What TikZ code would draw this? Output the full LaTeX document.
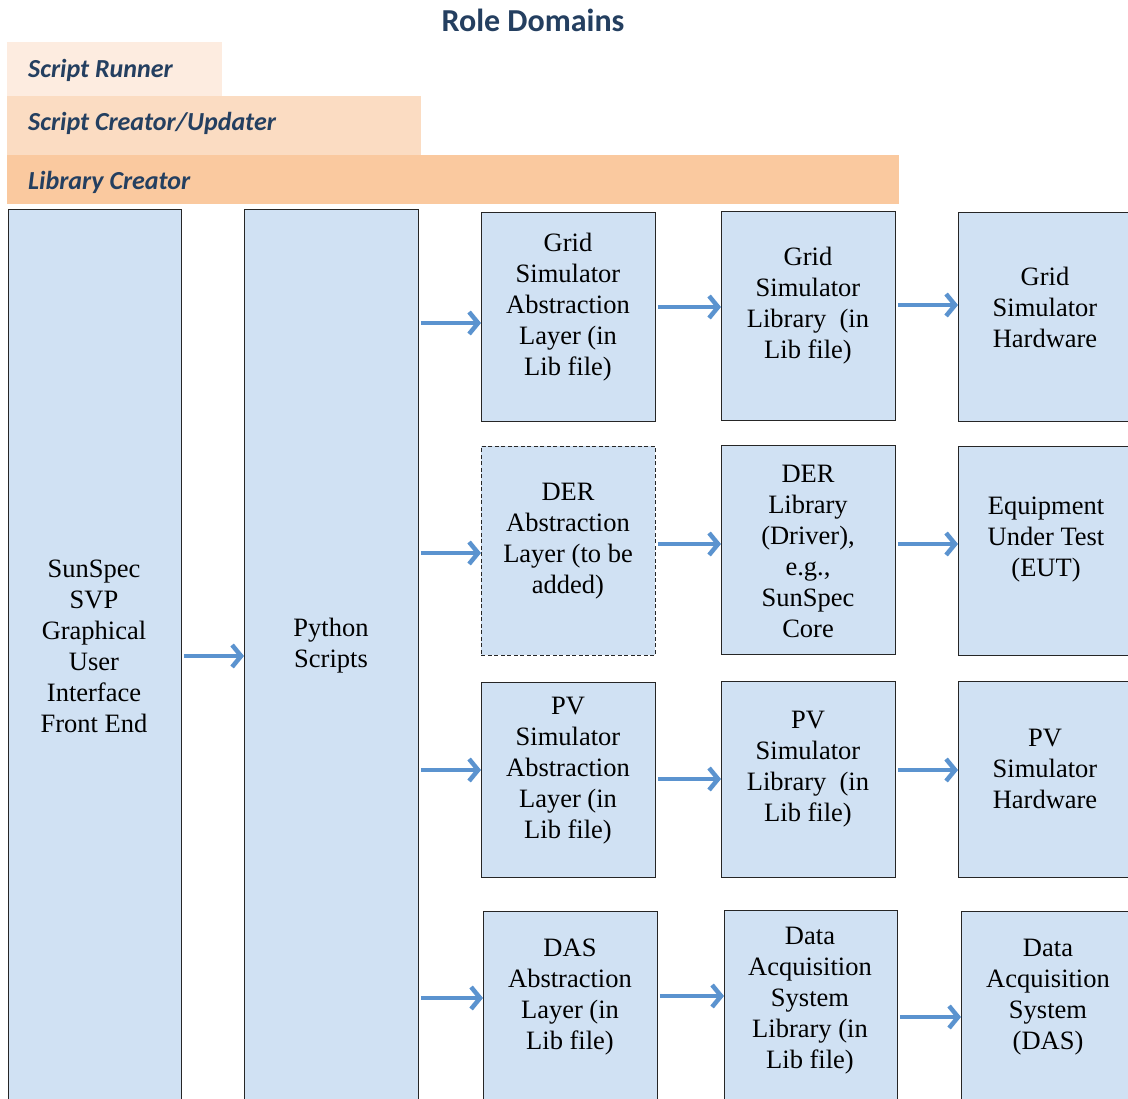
\documentclass[tikz,border=0pt]{standalone}
\usepackage{fontspec}
\setmainfont{Liberation Serif}
\newfontfamily\rolefont{Carlito}
\usetikzlibrary{arrows.meta}
\definecolor{boxblue}{HTML}{D0E1F3}
\definecolor{flowblue}{HTML}{5B93CF}
\definecolor{roleA}{HTML}{FDECE0}
\definecolor{roleB}{HTML}{FBDCC2}
\definecolor{roleC}{HTML}{FAC99F}
\definecolor{roletext}{HTML}{243F60}
\tikzset{
  rtext/.style={anchor=west, inner sep=0pt, text=roletext, font=\rolefont\bfseries\itshape\fontsize{26}{30}\selectfont},
  rtitle/.style={inner sep=0pt, text=roletext, font=\rolefont\bfseries\fontsize{32}{36}\selectfont},
  blk/.style={draw=black!85, line width=0.8pt, fill=boxblue, anchor=north west, inner sep=0pt},
  blkdash/.style={blk, dash pattern=on 4pt off 2.5pt},
  blktext/.style={align=center, inner sep=0pt, font=\fontsize{26.5}{31}\selectfont},
  flow/.style={draw=flowblue, line width=4.5pt, shorten <=2pt, -{Straight Barb[length=9pt,width=22pt]}},
}
\begin{document}
\begin{tikzpicture}[x=1pt,y=-1pt]
\useasboundingbox (0,0) rectangle (1128,1099);
\clip (0,0) rectangle (1128,1099);
% role bands
\node[rtitle] (title) at (533,20) {Role Domains};
\fill[roleA] (7,42) rectangle (222,96);
\fill[roleB] (7,96) rectangle (421,155);
\fill[roleC] (7,155) rectangle (899,204);
\node[rtext] (runner) at (28,70) {Script Runner};
\node[rtext] (creator) at (28,123) {Script Creator/Updater};
\node[rtext] (libc) at (28,182) {Library Creator};
% blocks
\node[blk, minimum width=173, minimum height=920] (gui) at (8,209) {};
\node[blk, minimum width=174, minimum height=920] (py) at (244,209) {};
\node[blk, minimum width=174, minimum height=209] (a1) at (481,212) {};
\node[blkdash, minimum width=174, minimum height=209] (a2) at (481,446) {};
\node[blk, minimum width=174, minimum height=195] (a3) at (481,682) {};
\node[blk, minimum width=174, minimum height=220] (a4) at (483,911) {};
\node[blk, minimum width=174, minimum height=209] (l1) at (721,211) {};
\node[blk, minimum width=174, minimum height=209] (l2) at (721,445) {};
\node[blk, minimum width=174, minimum height=196] (l3) at (721,681) {};
\node[blk, minimum width=173, minimum height=220] (l4) at (724,910) {};
\node[blk, minimum width=200, minimum height=209] (h1) at (958,212) {};
\node[blk, minimum width=200, minimum height=209] (h2) at (958,446) {};
\node[blk, minimum width=200, minimum height=196] (h3) at (958,681) {};
\node[blk, minimum width=200, minimum height=220] (h4) at (961,911) {};
% block texts
\node[blktext] (guit) at (94,646) {SunSpec\\SVP\\Graphical\\User\\Interface\\Front End};
\node[blktext] (pyt) at (331,646) {Python\\Scripts};
\node[blktext] (a1t) at (568,307) {Grid\\Simulator\\Abstraction\\Layer (in\\Lib file)};
\node[blktext] (a2t) at (568,541) {DER\\Abstraction\\Layer (to be\\added)};
\node[blktext] (a3t) at (568,771) {PV\\Simulator\\Abstraction\\Layer (in\\Lib file)};
\node[blktext] (a4t) at (570,997) {DAS\\Abstraction\\Layer (in\\Lib file)};
\node[blktext] (l1t) at (808,306) {Grid\\Simulator\\Library~~(in\\Lib file)};
\node[blktext] (l2t) at (808,551) {DER\\Library\\(Driver),\\e.g.,\\SunSpec\\Core};
\node[blktext] (l3t) at (808,769) {PV\\Simulator\\Library~~(in\\Lib file)};
\node[blktext] (l4t) at (810,1001) {Data\\Acquisition\\System\\Library (in\\Lib file)};
\node[blktext] (h1t) at (1045,307) {Grid\\Simulator\\Hardware};
\node[blktext] (h2t) at (1046,540) {Equipment\\Under Test\\(EUT)};
\node[blktext] (h3t) at (1045,769) {PV\\Simulator\\Hardware};
\node[blktext] (h4t) at (1048,997) {Data\\Acquisition\\System\\(DAS)};
% arrows
\draw[flow] (gui.east |- 0,656) -- (py.west |- 0,656);
\draw[flow] (py.east |- 0,323) -- (a1.west |- 0,323);
\draw[flow] (py.east |- 0,553) -- (a2.west |- 0,553);
\draw[flow] (py.east |- 0,770) -- (a3.west |- 0,770);
\draw[flow] (py.east |- 0,998) -- (a4.west |- 0,998);
\draw[flow] (a1.east |- 0,307) -- (l1.west |- 0,307);
\draw[flow] (a2.east |- 0,544) -- (l2.west |- 0,544);
\draw[flow] (a3.east |- 0,779) -- (l3.west |- 0,779);
\draw[flow] (a4.east |- 0,996) -- (l4.west |- 0,996);
\draw[flow] (l1.east |- 0,305) -- (h1.west |- 0,305);
\draw[flow] (l2.east |- 0,544) -- (h2.west |- 0,544);
\draw[flow] (l3.east |- 0,770) -- (h3.west |- 0,770);
\draw[flow] (l4.east |- 0,1017) -- (h4.west |- 0,1017);
\end{tikzpicture}
\end{document}
